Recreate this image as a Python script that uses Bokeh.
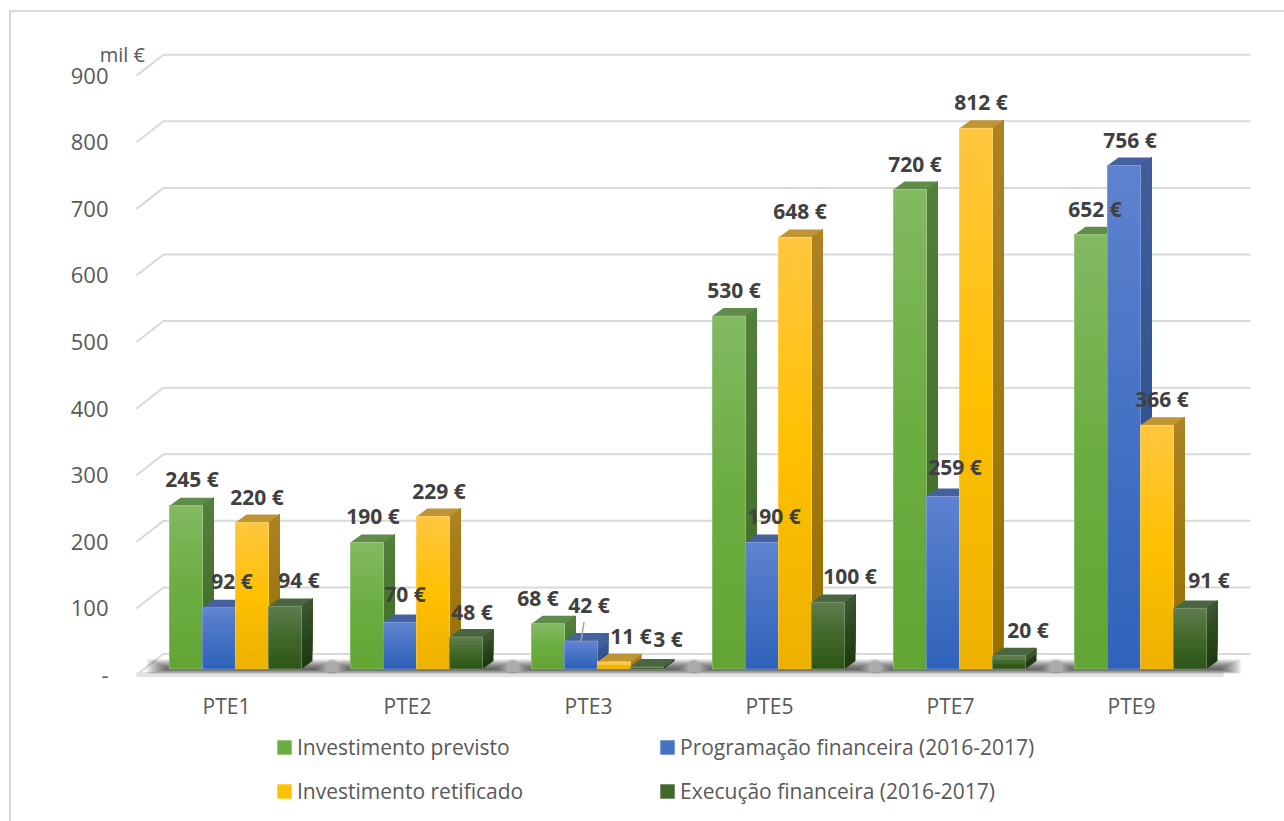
from bokeh.plotting import figure
from bokeh.layouts import column
from bokeh.models import (Range1d, LinearAxis, FixedTicker, Legend, LegendItem)
from bokeh.core.properties import value
from bokeh.embed import file_html
from bokeh.resources import INLINE

categories = ["PTE1", "PTE2", "PTE3", "PTE5", "PTE7", "PTE9"]
investimento_previsto = [245, 190, 68, 530, 720, 652]
programacao_financeira = [92, 70, 42, 190, 259, 756]
investimento_retificado = [220, 229, 11, 648, 812, 366]
execucao_financeira = [94, 48, 3, 100, 20, 91]
series_names = ["Investimento previsto", "Programação financeira (2016-2017)",
                "Investimento retificado", "Execução financeira (2016-2017)"]
y_ticks = [0, 100, 200, 300, 400, 500, 600, 700, 800, 900]
unit_label = "mil €"

series = [investimento_previsto, programacao_financeira, investimento_retificado, execucao_financeira]

front_top = ["#82B961", "#5E82CF", "#FFC63F", "#5C7B4B"]
front_mid = ["#6CAD42", "#4672C4", "#FFC000", "#42682A"]
front_bot = ["#62A534", "#2F63BA", "#EDB100", "#2F5518"]
side_top = ["#527F3A", "#3F5E9B", "#AC8223", "#3A5530"]
side_bot = ["#3E6A25", "#2A4A86", "#957000", "#1F3A10"]
top_face = ["#5F8C49", "#46619F", "#BF9533", "#4A6640"]

label_dx = [[6, 6, -10, 5, 5, 4], [13, 5, 8, 12, 12, 6], [5, 6, 17, 5, 5, 5], [14, 6, 21, 22, 19, 19]]
label_dy = [[27, 26, 26, 26, 26, 26], [27, 28, 36, 26, 30, 26], [26, 26, 26, 26, 26, 26], [26, 25, 28, 26, 26, 28]]
leader = (1, 2)

PAGE_W, MAIN_H, LEGEND_H = 1284, 722, 99
FRAME_L, FRAME_R, FRAME_T, FRAME_B = 112, 1284, 45, 680
PX_PER_GROUP, PX_PER_UNIT = 181.0, 0.667
ZERO_X, ZERO_Y = 226.0, 669.5
ux = 1 / PX_PER_GROUP
uy = 1 / PX_PER_UNIT

x_start = (FRAME_L - ZERO_X) * ux
x_end = (FRAME_R - ZERO_X) * ux
y_start = (ZERO_Y - FRAME_B) * uy
y_end = (ZERO_Y - FRAME_T) * uy

p = figure(width=PAGE_W, height=MAIN_H, output_backend="svg", toolbar_location=None,
           x_range=Range1d(x_start, x_end), y_range=Range1d(y_start, y_end),
           x_axis_location=None, y_axis_location=None,
           min_border_left=FRAME_L, min_border_right=PAGE_W - FRAME_R,
           min_border_top=FRAME_T, min_border_bottom=MAIN_H - FRAME_B,
           background_fill_color=None, border_fill_color=None)
p.grid.visible = False
p.outline_line_color = None

GREY = "#D9D9D9"
TXT = "#595959"
FONT = "Open Sans"

shift = 6 * uy
p.extra_y_ranges = {"front": Range1d(y_start + shift, y_end + shift)}
yaxis = LinearAxis(y_range_name="front", ticker=FixedTicker(ticks=y_ticks),
                   major_label_overrides={0: "-"}, axis_line_color=None,
                   major_tick_line_color=None, minor_tick_line_color=None,
                   major_tick_out=0, major_tick_in=0,
                   major_label_standoff=4, major_label_text_font=FONT,
                   major_label_text_font_size="22px", major_label_text_color=TXT)
p.add_layout(yaxis, "left")
xaxis = LinearAxis(ticker=FixedTicker(ticks=list(range(len(categories)))),
                   major_label_overrides={i: c for i, c in enumerate(categories)},
                   axis_line_color=None, major_tick_line_color=None, minor_tick_line_color=None,
                   major_tick_out=0, major_tick_in=0,
                   major_label_standoff=12, major_label_text_font=FONT,
                   major_label_text_font_size="21px", major_label_text_color=TXT)
p.add_layout(xaxis, "below")
unit_x = -0.575
unit_axis = LinearAxis(ticker=FixedTicker(ticks=[unit_x]), major_label_overrides={unit_x: unit_label},
                       axis_line_color=None, major_tick_line_color=None, minor_tick_line_color=None,
                       major_tick_out=0, major_tick_in=0,
                       major_label_standoff=-22, major_label_text_font=FONT,
                       major_label_text_font_size="20px", major_label_text_color=TXT)
p.add_layout(unit_axis, "above")

left_front, left_back = -90 * ux, -63 * ux
right_back, right_front = 1024 * ux, 997 * ux
front_dy, back_dy = -6 * uy, 15 * uy
p.line([left_front, left_back, right_back], [front_dy, back_dy, back_dy], line_color=GREY, line_width=2)
p.quad(left=[left_front], right=[right_front], bottom=[front_dy - 2 * uy], top=[front_dy + 3 * uy],
       fill_color="#E2E2E2", line_color=None)
for t in y_ticks[1:]:
    p.line([left_front, left_back, right_back], [t + front_dy, t + back_dy, t + back_dy],
           line_color=GREY, line_width=2)

W = 33 * ux
SHIFT = 9 * ux
DX, DY = 11 * ux, 8 * uy
for i in range(len(categories)):
    l = i + SHIFT - 2 * W
    r = i + SHIFT + 2 * W
    for k in range(16):
        g = k * 1.4
        p.quad(left=[l - (2 + g) * ux], right=[r + (14 + g) * ux],
               bottom=[(-1 - k * 0.25) * uy], top=[(1 + k * 0.6) * uy],
               fill_color="#000000", fill_alpha=0.05, line_color=None)


def hex_mix(a, b, t):
    ca = [int(a[i:i + 2], 16) for i in (1, 3, 5)]
    cb = [int(b[i:i + 2], 16) for i in (1, 3, 5)]
    return "#%02X%02X%02X" % tuple(round(x + (y - x) * t) for x, y in zip(ca, cb))


def front_colour(s, t):
    if t < 0.5:
        return hex_mix(front_bot[s], front_mid[s], t * 2)
    return hex_mix(front_mid[s], front_top[s], (t - 0.5) * 2)


for s, vals in enumerate(series):
    lefts = [i + SHIFT + (s - 2) * W for i in range(len(vals))]
    rights = [l + W for l in lefts]
    xs, ys, cs = [], [], []
    for l, r, v in zip(lefts, rights, vals):
        n = max(2, int(v * PX_PER_UNIT / 8))
        for b in range(n):
            low = v * b / n
            xs.append([r, r + DX, r + DX, r])
            ys.append([low, low + DY, v + DY, v])
            cs.append(hex_mix(side_bot[s], side_top[s], b / max(n - 1, 1)))
    p.patches(xs, ys, fill_color=cs, line_color=None)
    p.patches([[l, l + DX, r + DX, r] for l, r in zip(lefts, rights)],
              [[v, v + DY, v + DY, v] for v in vals], fill_color=top_face[s], line_color=None)
    p.quad(left=lefts, right=rights, bottom=[0] * len(vals), top=vals,
           fill_color=front_mid[s], line_color=None)
    bl, br, bb, bt, bc = [], [], [], [], []
    for l, r, v in zip(lefts, rights, vals):
        n = max(2, int(v * PX_PER_UNIT / 4))
        for b in range(n):
            bl.append(l); br.append(r); bb.append(v * b / n); bt.append(v)
            bc.append(front_colour(s, b / max(n - 1, 1)))
    p.quad(left=bl, right=br, bottom=bb, top=bt, fill_color=bc, line_color=None)
    p.quad(left=lefts, right=rights, bottom=[0] * len(vals), top=vals,
           fill_alpha=0, line_color="#FFFFFF", line_alpha=0.22, line_width=1)

ls, lc = leader
lx = lc + SHIFT + (ls - 2 + 0.5) * W
p.line([lx, lx + 3 * ux], [series[ls][lc], series[ls][lc] + 19 * uy], line_color="#A6A6A6", line_width=1.5)

for s, vals in enumerate(series):
    centres = [i + SHIFT + (s - 2 + 0.5) * W for i in range(len(vals))]
    p.text(x=centres, y=vals, text=[f"{v} €" for v in vals],
           x_offset=label_dx[s], y_offset=[-d for d in label_dy[s]],
           text_font=value(FONT), text_font_size="21px", text_font_style="bold",
           text_color="#404040", text_align="center", text_baseline="middle")

# legend strip below the chart
q = figure(width=PAGE_W, height=LEGEND_H, output_backend="svg", toolbar_location=None,
           x_axis_location=None, y_axis_location=None, x_range=Range1d(0, 1), y_range=Range1d(0, 1),
           min_border=0, background_fill_color=None, border_fill_color=None)
q.grid.visible = False
q.outline_line_color = None
items = []
for s in [0, 2, 1, 3]:
    r = q.quad(left=[0], right=[0], bottom=[0], top=[0], fill_color=front_mid[s], line_color=None)
    items.append(LegendItem(label=series_names[s], renderers=[r]))
legend = Legend(items=items, ncols=2, location=(163, 12),
                border_line_color=None, background_fill_alpha=0, padding=0, margin=0,
                glyph_width=18, glyph_height=18, label_standoff=4, spacing=8,
                label_text_font=FONT, label_text_font_size="21px", label_text_color=TXT,
                label_width=353, label_height=36)
q.add_layout(legend, "center")

page = column(p, q, spacing=0, styles={
    "background-image": f"linear-gradient({GREY},{GREY}), linear-gradient({GREY},{GREY})",
    "background-size": "2px 100%, 100% 2px",
    "background-position": "9px 10px, 9px 10px",
    "background-repeat": "no-repeat",
})

open("out.html", "w").write(file_html(page, INLINE))
